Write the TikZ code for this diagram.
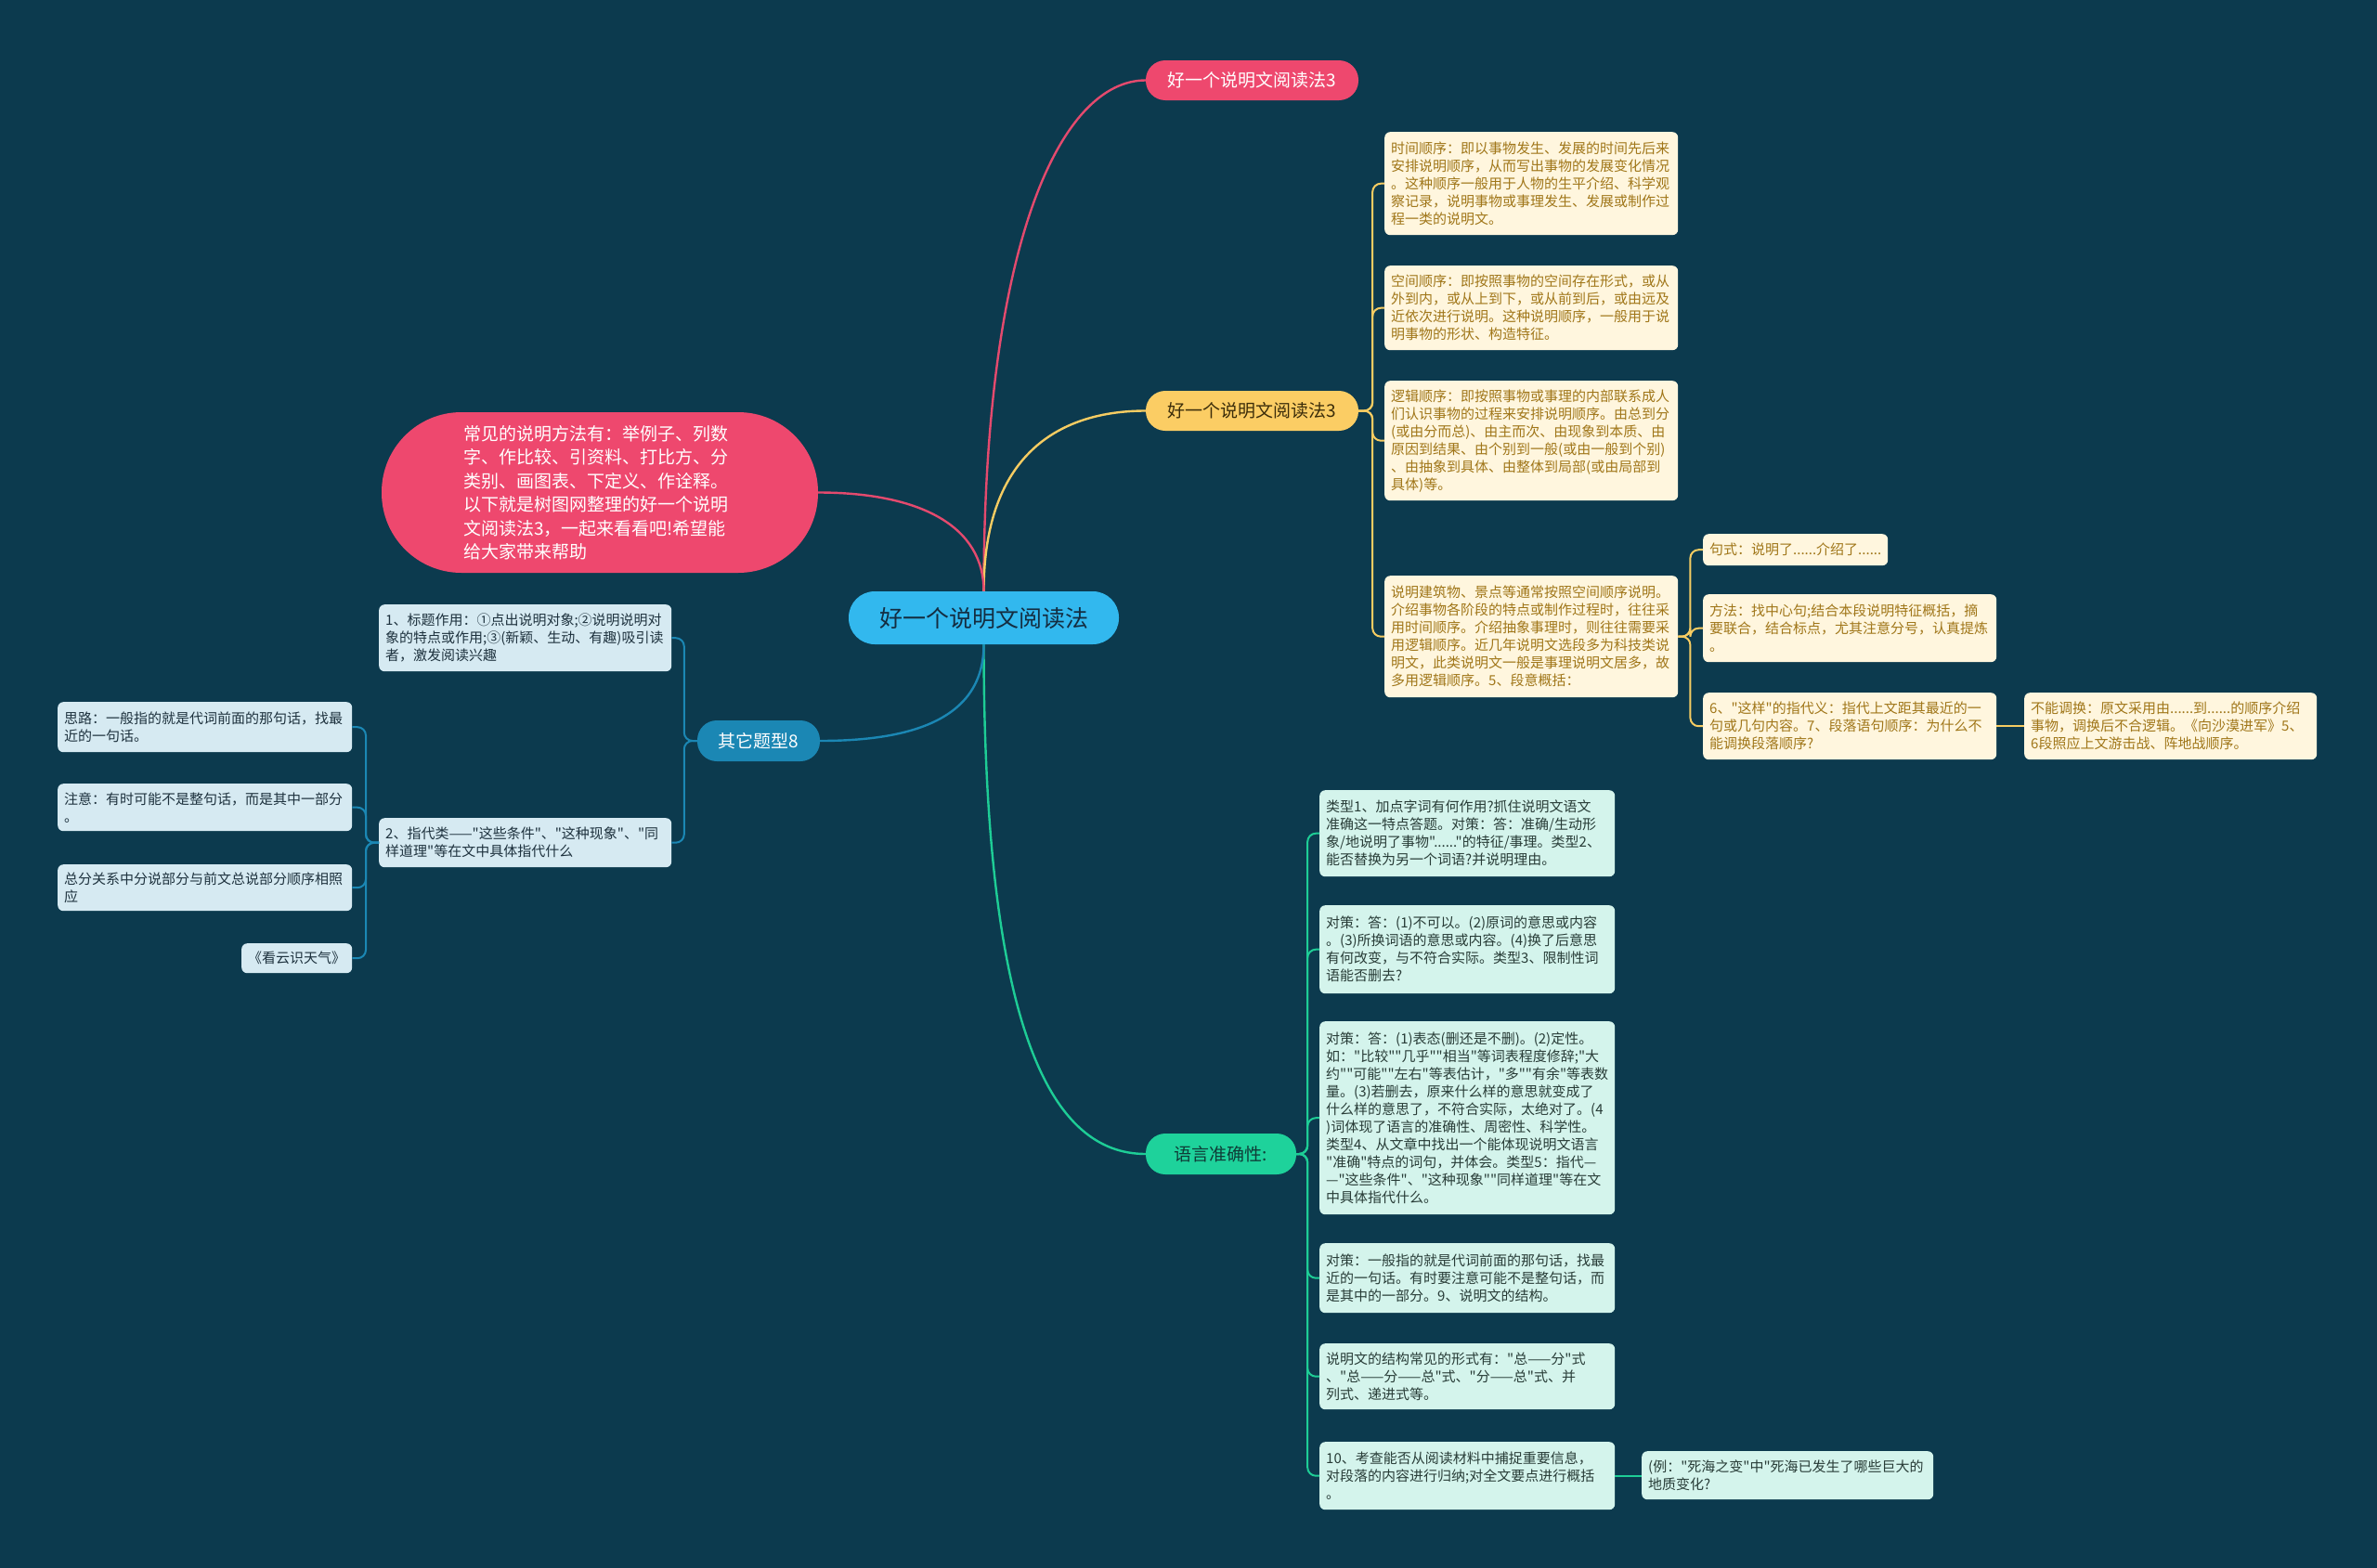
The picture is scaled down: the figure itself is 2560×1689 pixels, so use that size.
\documentclass[tikz,border=0pt]{standalone}
\usepackage{fontspec}
\setmainfont{Noto Sans CJK SC}[Ligatures=TeXOff]
\definecolor{bg}{RGB}{12,58,78}
\definecolor{cfill}{RGB}{50,184,238}
\definecolor{ctext}{RGB}{20,45,65}
\definecolor{pinkc}{RGB}{238,72,110}
\definecolor{pinkl}{RGB}{228,74,110}
\definecolor{yelc}{RGB}{251,205,100}
\definecolor{yell}{RGB}{246,204,98}
\definecolor{yeltxt}{RGB}{60,45,10}
\definecolor{grnc}{RGB}{30,210,155}
\definecolor{grnl}{RGB}{30,205,150}
\definecolor{grntxt}{RGB}{15,60,55}
\definecolor{bluc}{RGB}{27,135,180}
\definecolor{blul}{RGB}{27,135,180}
\definecolor{yfill}{RGB}{255,246,222}
\definecolor{ytext}{RGB}{160,118,25}
\definecolor{gfill}{RGB}{212,244,236}
\definecolor{gtext}{RGB}{40,60,55}
\definecolor{bfill}{RGB}{214,234,242}
\definecolor{btext}{RGB}{30,50,62}
\tikzset{
  leafbase/.style={rounded corners=6pt, anchor=north west, inner xsep=7pt, inner ysep=4pt, align=left, font=\fontsize{15}{19}\selectfont},
  ybox/.style={leafbase, fill=yfill, text=ytext},
  gbox/.style={leafbase, fill=gfill, text=gtext},
  bbox/.style={leafbase, fill=bfill, text=btext},
  branchbox/.style={rounded corners=21pt, inner sep=0pt, font=\fontsize{19}{23}\selectfont},
  mainline/.style={line width=2.4pt},
  subline/.style={line width=2pt, rounded corners=9pt},
}
\begin{document}
\begin{tikzpicture}[x=1pt,y=-1pt]
\useasboundingbox (0,0) rectangle (2560,1689);
\fill[bg] (0,0) rectangle (2560,1689);

% central and branches
\node[fill=cfill, text=ctext, rounded corners=28pt, minimum width=291pt, minimum height=57pt, inner sep=0pt, font=\fontsize{25}{30}\selectfont] (c) at (1059.5,665.5) {好一个说明文阅读法};
\node[branchbox, fill=pinkc, text=white, minimum width=229pt, minimum height=43pt] (pb) at (1348.5,86.5) {好一个说明文阅读法3};
\node[branchbox, fill=yelc, text=yeltxt, minimum width=229pt, minimum height=43pt] (yb) at (1348.5,442.5) {好一个说明文阅读法3};
\node[branchbox, fill=grnc, text=grntxt, minimum width=162pt, minimum height=44pt] (gb) at (1315,1243) {语言准确性:};
\node[branchbox, fill=bluc, text=white, minimum width=132pt, minimum height=44pt] (bb) at (817,798) {其它题型8};
\node[fill=pinkc, text=white, rounded corners=86pt, minimum width=470pt, minimum height=173pt, inner sep=0pt, text width=294pt, align=left, font=\fontsize{19}{25.5}\selectfont] (bub) at (646,530.5) {常见的说明方法有：举例子、列数\\字、作比较、引资料、打比方、分\\类别、画图表、下定义、作诠释。\\以下就是树图网整理的好一个说明\\文阅读法3，一起来看看吧!希望能\\给大家带来帮助};

% yellow leaves
\node[ybox, minimum width=316pt, minimum height=111pt, text width=302pt] (y1) at (1491,142) {时间顺序：即以事物发生、发展的时间先后来\\安排说明顺序，从而写出事物的发展变化情况\\。这种顺序一般用于人物的生平介绍、科学观\\察记录，说明事物或事理发生、发展或制作过\\程一类的说明文。};
\node[ybox, minimum width=316pt, minimum height=91pt, text width=302pt] (y2) at (1491,286) {空间顺序：即按照事物的空间存在形式，或从\\外到内，或从上到下，或从前到后，或由远及\\近依次进行说明。这种说明顺序，一般用于说\\明事物的形状、构造特征。};
\node[ybox, minimum width=316pt, minimum height=129pt, text width=302pt] (y3) at (1491,410) {逻辑顺序：即按照事物或事理的内部联系成人\\们认识事物的过程来安排说明顺序。由总到分\\(或由分而总)、由主而次、由现象到本质、由\\原因到结果、由个别到一般(或由一般到个别)\\、由抽象到具体、由整体到局部(或由局部到\\具体)等。};
\node[ybox, minimum width=316pt, minimum height=131pt, text width=302pt] (y4) at (1491,620) {说明建筑物、景点等通常按照空间顺序说明。\\介绍事物各阶段的特点或制作过程时，往往采\\用时间顺序。介绍抽象事理时，则往往需要采\\用逻辑顺序。近几年说明文选段多为科技类说\\明文，此类说明文一般是事理说明文居多，故\\多用逻辑顺序。5、段意概括：};
\node[ybox, minimum width=199pt, minimum height=34pt, text width=185pt] (ya) at (1834,575) {句式：说明了......介绍了......};
\node[ybox, minimum width=316pt, minimum height=73pt, text width=302pt] (yb2) at (1834,640) {方法：找中心句;结合本段说明特征概括，摘\\要联合，结合标点，尤其注意分号，认真提炼\\。};
\node[ybox, minimum width=316pt, minimum height=72pt, text width=302pt] (yc) at (1834,746) {6、"这样"的指代义：指代上文距其最近的一\\句或几句内容。7、段落语句顺序：为什么不\\能调换段落顺序?};
\node[ybox, minimum width=315pt, minimum height=72pt, text width=301pt] (yd) at (2180,746) {不能调换：原文采用由......到......的顺序介绍\\事物，调换后不合逻辑。《向沙漠进军》5、\\6段照应上文游击战、阵地战顺序。};

% green leaves
\node[gbox, minimum width=318pt, minimum height=93pt, text width=304pt] (g1) at (1421,851) {类型1、加点字词有何作用?抓住说明文语文\\准确这一特点答题。对策：答：准确/生动形\\象/地说明了事物"......"的特征/事理。类型2、\\能否替换为另一个词语?并说明理由。};
\node[gbox, minimum width=318pt, minimum height=95pt, text width=304pt] (g2) at (1421,975) {对策：答：(1)不可以。(2)原词的意思或内容\\。(3)所换词语的意思或内容。(4)换了后意思\\有何改变，与不符合实际。类型3、限制性词\\语能否删去?};
\node[gbox, minimum width=318pt, minimum height=208pt, text width=304pt] (g3) at (1421,1100) {对策：答：(1)表态(删还是不删)。(2)定性。\\如："比较""几乎""相当"等词表程度修辞;"大\\约""可能""左右"等表估计，"多""有余"等表数\\量。(3)若删去，原来什么样的意思就变成了\\什么样的意思了，不符合实际，太绝对了。(4\\)词体现了语言的准确性、周密性、科学性。\\类型4、从文章中找出一个能体现说明文语言\\"准确"特点的词句，并体会。类型5：指代—\\—"这些条件"、"这种现象""同样道理"等在文\\中具体指代什么。};
\node[gbox, minimum width=318pt, minimum height=75pt, text width=304pt] (g4) at (1421,1339) {对策：一般指的就是代词前面的那句话，找最\\近的一句话。有时要注意可能不是整句话，而\\是其中的一部分。9、说明文的结构。};
\node[gbox, minimum width=318pt, minimum height=71pt, text width=304pt] (g5) at (1421,1447) {说明文的结构常见的形式有："总——分"式\\、"总——分——总"式、"分——总"式、并\\列式、递进式等。};
\node[gbox, minimum width=318pt, minimum height=73pt, text width=304pt] (g6) at (1421,1553) {10、考查能否从阅读材料中捕捉重要信息，\\对段落的内容进行归纳;对全文要点进行概括\\。};
\node[gbox, minimum width=314pt, minimum height=52pt, text width=300pt] (g7) at (1768,1563) {(例："死海之变"中"死海已发生了哪些巨大的\\地质变化?};

% blue leaves
\node[bbox, minimum width=315pt, minimum height=72pt, text width=301pt] (l1) at (408,651) {1、标题作用：①点出说明对象;②说明说明对\\象的特点或作用;③(新颖、生动、有趣)吸引读\\者，激发阅读兴趣};
\node[bbox, minimum width=315pt, minimum height=53pt, text width=301pt] (l2) at (408,881) {2、指代类——"这些条件"、"这种现象"、"同\\样道理"等在文中具体指代什么};
\node[bbox, minimum width=317pt, minimum height=54pt, text width=303pt] (m1) at (62,756) {思路：一般指的就是代词前面的那句话，找最\\近的一句话。};
\node[bbox, minimum width=317pt, minimum height=51pt, text width=303pt] (m2) at (62,844) {注意：有时可能不是整句话，而是其中一部分\\。};
\node[bbox, minimum width=317pt, minimum height=50pt, text width=303pt] (m3) at (62,931) {总分关系中分说部分与前文总说部分顺序相照\\应};
\node[bbox, minimum width=119pt, minimum height=32pt, align=center, inner xsep=4pt] (m4) at (260,1016) {《看云识天气》};

% main connectors
\draw[mainline, pinkl] (c.north) .. controls +(0,-380) and +(-90,0) .. (pb.west);
\draw[mainline, yell] (c.north) .. controls +(0,-150) and +(-90,0) .. (yb.west);
\draw[mainline, pinkl] (bub.east) .. controls +(110,0) and +(0,-70) .. (c.north);
\draw[mainline, grnl] (c.south) .. controls +(0,420) and +(-100,0) .. (gb.west);
\draw[mainline, blul] (c.south) .. controls +(0,80) and +(100,0) .. (bb.east);

% yellow sub connectors
\foreach \t in {y1,y2,y3,y4} \draw[subline, yell] (yb.east) -- ++(15,0) |- (\t.west);
\foreach \t in {ya,yb2,yc} \draw[subline, yell] (y4.east) -- ++(13,0) |- (\t.west);
\draw[subline, yell] (yc.east) -- (yd.west);

% green sub connectors
\foreach \t in {g1,g2,g3,g4,g5,g6} \draw[subline, grnl] (gb.east) -- ++(12,0) |- (\t.west);
\draw[subline, grnl] (g6.east) -- (g7.west |- g6.east);

% blue sub connectors
\foreach \t in {l1,l2} \draw[subline, blul] (bb.west) -- ++(-14,0) |- (\t.east);
\foreach \t in {m1,m2,m3,m4} \draw[subline, blul] (l2.west) -- ++(-14,0) |- (\t.east);
\end{tikzpicture}
\end{document}
